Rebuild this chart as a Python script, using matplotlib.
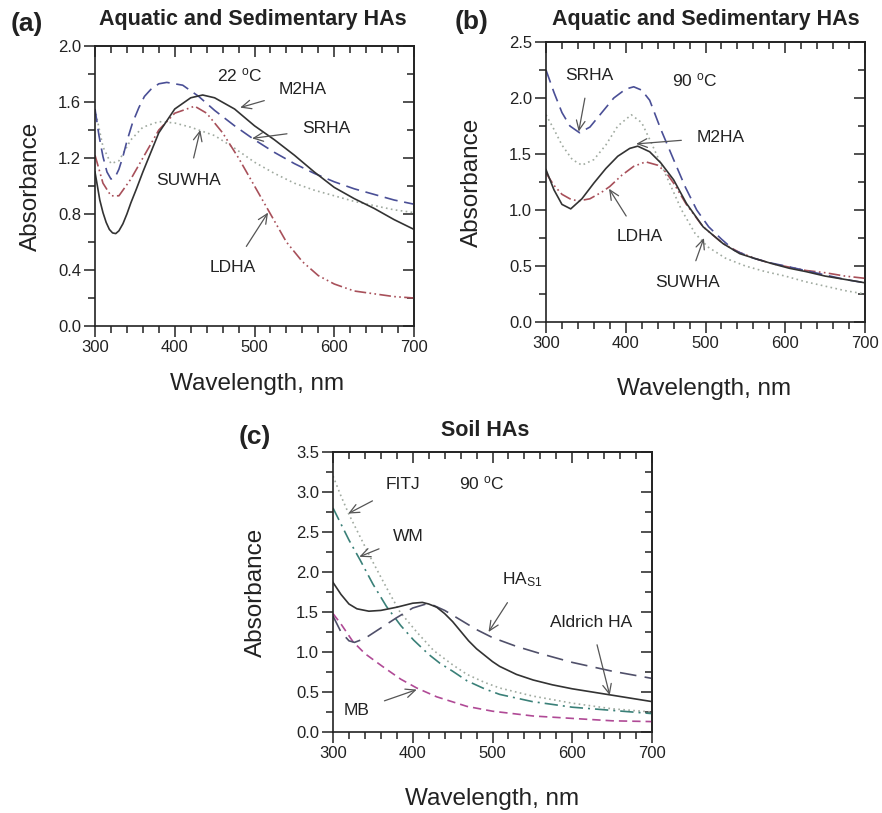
import matplotlib
matplotlib.use("Agg")
import matplotlib.pyplot as plt
from matplotlib.ticker import MultipleLocator

plt.rcParams['font.family'] = ['Liberation Sans', 'DejaVu Sans']
plt.rcParams['mathtext.fontset'] = 'custom'
plt.rcParams['mathtext.rm'] = 'Liberation Sans'
plt.rcParams['mathtext.it'] = 'Liberation Sans'

# (a) aquatic / sedimentary HAs at 22 C
a_m2ha_x = [300, 303, 306, 310, 314, 318, 322, 326, 330, 335, 340, 345, 352, 360, 380, 400, 420, 435, 450, 475, 500, 525, 550, 575, 600, 625, 650, 675, 700]
a_m2ha_y = [1.10, 1.00, 0.90, 0.81, 0.74, 0.69, 0.665, 0.66, 0.68, 0.73, 0.80, 0.88, 0.98, 1.10, 1.38, 1.55, 1.63, 1.65, 1.63, 1.55, 1.43, 1.33, 1.22, 1.10, 0.99, 0.91, 0.84, 0.76, 0.69]
a_srha_x = [300, 305, 310, 315, 320, 325, 330, 335, 340, 347, 355, 362, 370, 380, 390, 410, 430, 450, 475, 500, 525, 550, 575, 600, 625, 650, 675, 700]
a_srha_y = [1.55, 1.36, 1.21, 1.10, 1.05, 1.06, 1.12, 1.21, 1.32, 1.45, 1.56, 1.64, 1.69, 1.73, 1.74, 1.72, 1.64, 1.54, 1.43, 1.33, 1.24, 1.16, 1.09, 1.03, 0.98, 0.94, 0.90, 0.87]
a_suwha_x = [300, 310, 320, 330, 345, 360, 380, 400, 420, 450, 475, 500, 525, 550, 575, 600, 625, 650, 675, 700]
a_suwha_y = [1.55, 1.28, 1.16, 1.18, 1.33, 1.42, 1.46, 1.45, 1.42, 1.36, 1.27, 1.17, 1.09, 1.02, 0.97, 0.93, 0.89, 0.86, 0.83, 0.81]
a_ldha_x = [300, 310, 320, 330, 345, 360, 380, 400, 425, 440, 460, 480, 500, 520, 540, 560, 580, 600, 625, 650, 675, 700]
a_ldha_y = [1.22, 1.02, 0.93, 0.93, 1.05, 1.20, 1.40, 1.52, 1.57, 1.52, 1.38, 1.20, 1.00, 0.80, 0.60, 0.46, 0.36, 0.30, 0.25, 0.23, 0.21, 0.20]

# (b) same samples at 90 C
b_srha_x = [300, 310, 320, 330, 342, 355, 370, 385, 400, 410, 420, 430, 444, 460, 475, 489, 504, 520, 536, 560, 580, 600, 625, 650, 675, 700]
b_srha_y = [2.25, 2.05, 1.87, 1.75, 1.69, 1.74, 1.87, 2.00, 2.08, 2.10, 2.07, 1.98, 1.72, 1.45, 1.20, 1.00, 0.85, 0.74, 0.64, 0.57, 0.53, 0.50, 0.46, 0.42, 0.38, 0.35]
b_suwha_x = [300, 310, 320, 333, 345, 360, 375, 390, 407, 420, 432, 453, 470, 487, 503, 525, 550, 575, 600, 625, 650, 675, 700]
b_suwha_y = [1.85, 1.72, 1.58, 1.45, 1.40, 1.45, 1.58, 1.75, 1.85, 1.78, 1.60, 1.27, 1.00, 0.79, 0.67, 0.57, 0.50, 0.45, 0.41, 0.36, 0.32, 0.28, 0.25]
b_m2ha_x = [300, 310, 320, 331, 345, 360, 375, 390, 405, 415, 430, 444, 460, 476, 497, 522, 543, 565, 584, 605, 626, 650, 675, 700]
b_m2ha_y = [1.36, 1.18, 1.05, 1.01, 1.10, 1.24, 1.37, 1.48, 1.55, 1.57, 1.52, 1.42, 1.27, 1.06, 0.85, 0.70, 0.61, 0.56, 0.52, 0.48, 0.45, 0.41, 0.38, 0.35]
b_ldha_x = [300, 310, 320, 330, 340, 355, 370, 380, 395, 410, 425, 440, 450, 460, 476, 497, 522, 543, 565, 584, 605, 626, 650, 675, 700]
b_ldha_y = [1.33, 1.22, 1.14, 1.10, 1.08, 1.10, 1.16, 1.21, 1.31, 1.39, 1.43, 1.40, 1.34, 1.24, 1.05, 0.85, 0.70, 0.62, 0.56, 0.52, 0.49, 0.46, 0.44, 0.41, 0.39]

# (c) soil HAs at 90 C
c_fitj_x = [300, 310, 320, 334, 345, 355, 370, 384, 405, 426, 450, 468, 490, 509, 550, 600, 650, 700]
c_fitj_y = [3.20, 2.95, 2.72, 2.44, 2.22, 2.03, 1.75, 1.50, 1.25, 1.02, 0.84, 0.72, 0.62, 0.55, 0.45, 0.36, 0.29, 0.25]
c_wm_x = [300, 310, 320, 334, 350, 367, 385, 401, 420, 434, 450, 468, 490, 509, 550, 600, 650, 700]
c_wm_y = [2.80, 2.60, 2.40, 2.15, 1.85, 1.57, 1.33, 1.15, 0.97, 0.86, 0.76, 0.64, 0.54, 0.47, 0.38, 0.31, 0.27, 0.23]
c_ald_x = [300, 310, 320, 330, 345, 360, 380, 400, 412, 420, 430, 440, 450, 460, 470, 480, 490, 500, 509, 530, 551, 575, 600, 625, 650, 675, 700]
c_ald_y = [1.87, 1.72, 1.60, 1.54, 1.51, 1.52, 1.56, 1.61, 1.62, 1.60, 1.56, 1.48, 1.38, 1.26, 1.14, 1.04, 0.96, 0.88, 0.82, 0.72, 0.65, 0.59, 0.54, 0.50, 0.46, 0.42, 0.38]
c_has1_x = [300, 310, 320, 327, 340, 360, 380, 400, 420, 440, 460, 480, 500, 530, 560, 600, 650, 700]
c_has1_y = [1.45, 1.25, 1.14, 1.12, 1.17, 1.30, 1.43, 1.55, 1.61, 1.52, 1.40, 1.28, 1.18, 1.07, 0.98, 0.87, 0.76, 0.67]
c_mb_x = [300, 310, 325, 340, 362, 385, 405, 430, 468, 500, 551, 600, 650, 700]
c_mb_y = [1.48, 1.35, 1.13, 0.98, 0.82, 0.66, 0.55, 0.44, 0.32, 0.26, 0.20, 0.17, 0.14, 0.13]

W, H = 882, 813
fig = plt.figure(figsize=(W / 100, H / 100), dpi=100)


def box(x0, y0, x1, y1):
    return [x0 / W, 1 - y1 / H, (x1 - x0) / W, (y1 - y0) / H]


def style(ax, ymax, ymaj, ymin):
    ax.set_xlim(300, 700)
    ax.set_ylim(0, ymax)
    ax.xaxis.set_major_locator(MultipleLocator(100))
    ax.xaxis.set_minor_locator(MultipleLocator(20))
    ax.yaxis.set_major_locator(MultipleLocator(ymaj))
    ax.yaxis.set_minor_locator(MultipleLocator(ymin))
    ax.tick_params(which='both', direction='out', top=False, right=False,
                   labelsize=12, width=1.1, color='#222222', labelcolor='#222222', pad=2)
    ax.tick_params(which='major', length=8)
    ax.tick_params(which='minor', length=5)
    for s in ax.spines.values():
        s.set_linewidth(1.2)
        s.set_color('#222222')
    top = ax.secondary_xaxis('top')
    top.xaxis.set_major_locator(MultipleLocator(100))
    top.xaxis.set_minor_locator(MultipleLocator(20))
    top.tick_params(which='both', direction='in', labeltop=False, width=1.1, color='#222222')
    top.tick_params(which='major', length=8)
    top.tick_params(which='minor', length=5)
    right = ax.secondary_yaxis('right')
    right.yaxis.set_major_locator(MultipleLocator(ymaj))
    right.yaxis.set_minor_locator(MultipleLocator(ymin))
    right.tick_params(which='both', direction='in', labelright=False, width=1.1, color='#222222')
    right.tick_params(which='major', length=8)
    right.tick_params(which='minor', length=5)
    for sec in (top, right):
        for s in sec.spines.values():
            s.set_linewidth(1.2)
            s.set_color('#222222')
    ax.set_xlabel('Wavelength, nm', fontsize=17.5, color='#222222', va='top')
    ax.set_ylabel('Absorbance', fontsize=17.5, color='#222222')


def note(ax, text, txy, head):
    ax.annotate(text, xy=head, xytext=txy, fontsize=12.5, color='#222222',
                ha='center', va='center',
                arrowprops=dict(arrowstyle='->,head_length=0.55,head_width=0.25',
                                color='#555555', lw=0.9, shrinkA=9, shrinkB=0))


blk = '#333333'
blue = '#4a4f96'
grey = '#a0aaa0'
red = '#a8505a'
teal = '#3a8078'
slate = '#50506a'
mag = '#b04a96'

dash_long = (0, (8, 4))
dot = (0, (1, 2))
dash_dot_dot = (0, (7, 2, 1, 2, 1, 2))
dash_dot = (0, (8, 3, 1.2, 3))
dash_short = (0, (5, 3))

# panel (a)
ax = fig.add_axes(box(95, 46, 414, 326))
ax.plot(a_suwha_x, a_suwha_y, color=grey, lw=1.2, ls=dot)
ax.plot(a_ldha_x, a_ldha_y, color=red, lw=1.2, ls=dash_dot_dot)
ax.plot(a_srha_x, a_srha_y, color=blue, lw=1.2, ls=dash_long)
ax.plot(a_m2ha_x, a_m2ha_y, color=blk, lw=1.2)
style(ax, 2.0, 0.4, 0.2)
ax.yaxis.set_major_formatter(plt.FormatStrFormatter('%.1f'))
ax.yaxis.set_label_coords(-0.166, 0.5)
ax.xaxis.set_label_coords(0.507, -0.168)
ax.text(481, 1.79, '22 $^{\\mathrm{o}}$C', fontsize=12.5, ha='center', va='center', color='#222222')
note(ax, 'M2HA', (561, 1.69), (482, 1.56))
note(ax, 'SRHA', (590, 1.41), (497, 1.34))
note(ax, 'SUWHA', (417, 1.04), (432, 1.40))
note(ax, 'LDHA', (473, 0.42), (517, 0.81))

# panel (b)
ax = fig.add_axes(box(546, 42, 865, 322))
ax.plot(b_suwha_x, b_suwha_y, color=grey, lw=1.2, ls=dot)
ax.plot(b_ldha_x, b_ldha_y, color=red, lw=1.2, ls=dash_dot_dot)
ax.plot(b_srha_x, b_srha_y, color=blue, lw=1.2, ls=dash_long)
ax.plot(b_m2ha_x, b_m2ha_y, color=blk, lw=1.2)
style(ax, 2.5, 0.5, 0.25)
ax.yaxis.set_label_coords(-0.197, 0.5)
ax.xaxis.set_label_coords(0.495, -0.2)
ax.text(486, 2.16, '90 $^{\\mathrm{o}}$C', fontsize=12.5, ha='center', va='center', color='#222222')
note(ax, 'SRHA', (354, 2.20), (341, 1.70))
note(ax, 'M2HA', (519, 1.65), (413, 1.59))
note(ax, 'LDHA', (417, 0.76), (379, 1.19))
note(ax, 'SUWHA', (478, 0.35), (498, 0.75))

# panel (c)
ax = fig.add_axes(box(333, 452, 652, 732))
ax.plot(c_fitj_x, c_fitj_y, color=grey, lw=1.2, ls=dot)
ax.plot(c_wm_x, c_wm_y, color=teal, lw=1.2, ls=dash_dot)
ax.plot(c_mb_x, c_mb_y, color=mag, lw=1.2, ls=dash_short)
ax.plot(c_has1_x, c_has1_y, color=slate, lw=1.2, ls=(0, (10, 5)))
ax.plot(c_ald_x, c_ald_y, color=blk, lw=1.2)
style(ax, 3.5, 0.5, 0.25)
ax.yaxis.set_label_coords(-0.207, 0.5)
ax.xaxis.set_label_coords(0.50, -0.2)
ax.text(486, 3.11, '90 $^{\\mathrm{o}}$C', fontsize=12.5, ha='center', va='center', color='#222222')
note(ax, 'FITJ', (388, 3.09), (319, 2.73))
note(ax, 'WM', (395, 2.44), (333, 2.19))
note(ax, 'HA$_{\\mathrm{S1}}$', (537, 1.90), (495, 1.25))
note(ax, 'Aldrich HA', (624, 1.37), (647, 0.46))
note(ax, 'MB', (330, 0.27), (405, 0.53))

# titles and panel letters
for x, y, t in [(253, 20, 'Aquatic and Sedimentary HAs'),
                (706, 20, 'Aquatic and Sedimentary HAs'),
                (485, 430, 'Soil HAs')]:
    fig.text(x / W, 1 - y / H, t, fontsize=15.5, fontweight='bold', ha='center', va='center', color='#222222')
for x, y, t in [(27, 24, '(a)'), (472, 22, '(b)'), (255, 437, '(c)')]:
    fig.text(x / W, 1 - y / H, t, fontsize=19, fontweight='bold', ha='center', va='center', color='#222222')

fig.savefig('out.png', dpi=100)
